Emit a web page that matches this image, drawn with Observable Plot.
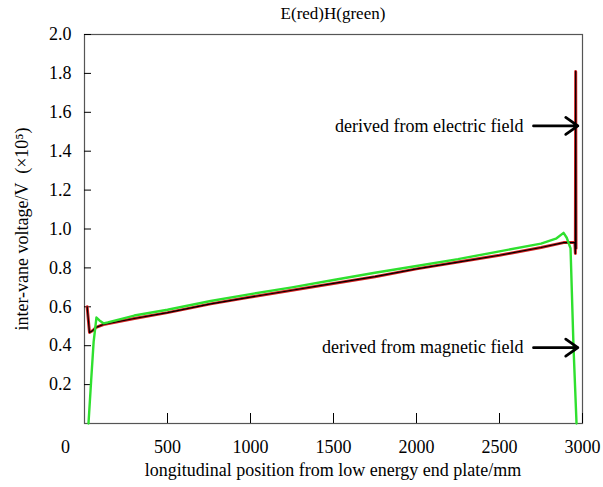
<!DOCTYPE html>
<html>
<head>
<meta charset="utf-8">
<script src="https://cdn.jsdelivr.net/npm/d3@7"></script>
<script src="https://cdn.jsdelivr.net/npm/@observablehq/plot@0.6"></script>
<style>
  html, body { margin: 0; padding: 0; background: #fff; }
  #chart svg { display: block; }
  #chart svg text { font-family: 'Liberation Serif', 'Times New Roman', 'DejaVu Serif', serif !important; }
</style>
</head>
<body>
<div id="chart"></div>
<script>
// Electric-field derived voltage (red)
const eX = [16, 30, 50, 70, 114, 300, 500, 760, 1000, 1250, 1500, 1750, 2000, 2250, 2500, 2750, 2886, 2954, 2957, 2959, 2961];
const eY = [0.60, 0.468, 0.478, 0.494, 0.509, 0.54, 0.57, 0.615, 0.65, 0.685, 0.72, 0.755, 0.795, 0.83, 0.865, 0.905, 0.93, 0.93, 0.874, 1.81, 0.90];
// Magnetic-field derived voltage (green)
const hX = [24, 40, 55, 72, 90, 114, 140, 300, 500, 760, 1000, 1250, 1500, 1750, 2000, 2250, 2500, 2750, 2840, 2886, 2905, 2928, 2946, 2964];
const hY = [0.0, 0.22, 0.42, 0.545, 0.53, 0.515, 0.52, 0.555, 0.585, 0.63, 0.665, 0.70, 0.738, 0.775, 0.81, 0.845, 0.885, 0.925, 0.95, 0.98, 0.955, 0.90, 0.39, 0.0];

const xTicks = [500, 1000, 1500, 2000, 2500, 3000];
const yTicks = [0.2, 0.4, 0.6, 0.8, 1.0, 1.2, 1.4, 1.6, 1.8, 2.0];

const annLabels = ["derived from electric field", "derived from magnetic field"];
const annY = [1.53, 0.39];
const annX1 = [2705, 2705];
const annX2 = [2972, 2972];

const title = "E(red)H(green)";
const xLabel = "longitudinal position from low energy end plate/mm";
const yLabel = "inter-vane voltage/V  (×10⁵)";

const eData = eX.map((x, i) => ({x, y: eY[i]}));
const hData = hX.map((x, i) => ({x, y: hY[i]}));
const ann = annLabels.map((t, i) => ({t, y: annY[i], x1: annX1[i], x2: annX2[i]}));

const font = "'Liberation Serif', 'Times New Roman', 'DejaVu Serif', serif";

const chart = Plot.plot({
  width: 603,
  height: 487,
  marginLeft: 84,
  marginRight: 21,
  marginTop: 34,
  marginBottom: 64,
  style: {fontFamily: font, fontSize: "17px", color: "#000", background: "#fff"},
  x: {domain: [0, 3000]},
  y: {domain: [0, 2]},
  marks: [
    Plot.frame({stroke: "#555", strokeWidth: 1.2}),
    Plot.axisX({ticks: xTicks, tickSize: -10, text: null, label: null, stroke: "#000"}),
    Plot.axisX({ticks: xTicks, tickSize: 0, tickPadding: 17, label: null, fontSize: 18, tickFormat: d => String(d)}),
    Plot.axisX({ticks: [0], tickSize: 0, tickPadding: 17, label: null, fontSize: 18, dx: -19, tickFormat: d => String(d)}),
    Plot.axisY({ticks: yTicks, tickSize: -7, text: null, label: null}),
    Plot.axisY({ticks: yTicks, tickSize: 0, tickPadding: 13, label: null, fontSize: 18, tickFormat: d => d.toFixed(1)}),
    Plot.line(eData, {x: "x", y: "y", stroke: "#d42020", strokeWidth: 3}),
    Plot.line(eData, {x: "x", y: "y", stroke: "#000", strokeWidth: 1.2}),
    Plot.line(hData, {x: "x", y: "y", stroke: "#2fe02f", strokeWidth: 2.4}),
    Plot.arrow(ann, {x1: "x1", x2: "x2", y1: "y", y2: "y", stroke: "#000", strokeWidth: 2.8, headLength: 9, headAngle: 70}),
    Plot.text(ann, {x: "x1", y: "y", text: "t", textAnchor: "end", dx: -10, fontSize: 18})
  ]
});

const svg = d3.select(chart);
svg.append("text")
  .attr("x", 333).attr("y", 19)
  .attr("text-anchor", "middle")
  .attr("font-size", 17)
  .attr("font-family", font)
  .text(title);
svg.append("text")
  .attr("x", 333).attr("y", 476)
  .attr("text-anchor", "middle")
  .attr("font-size", 18)
  .attr("font-family", font)
  .text(xLabel);
svg.append("text")
  .attr("transform", "translate(28,229) rotate(-90)")
  .attr("text-anchor", "middle")
  .attr("font-size", 18)
  .attr("font-family", font)
  .text(yLabel);

document.getElementById("chart").appendChild(chart);
</script>
</body>
</html>
